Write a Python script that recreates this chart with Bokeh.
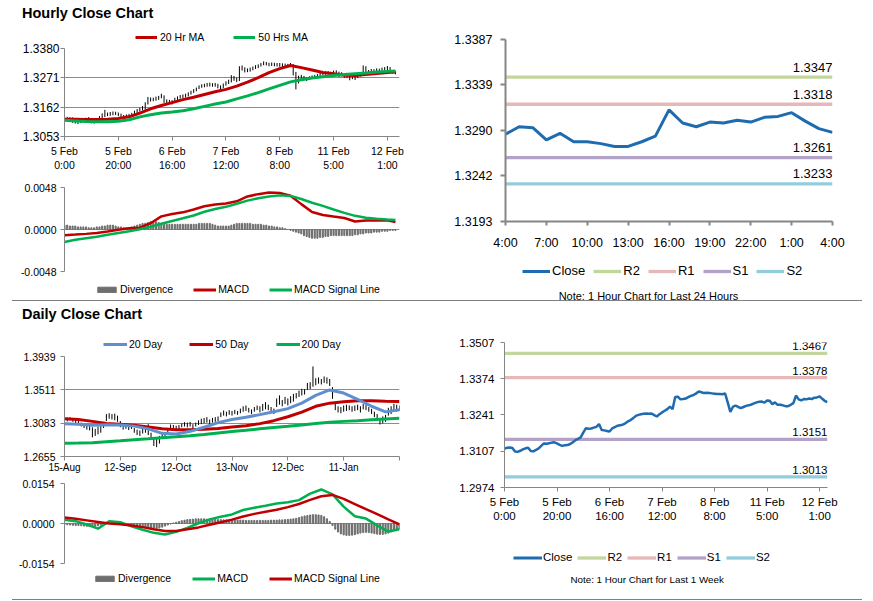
from bokeh.plotting import figure
from bokeh.models import (FixedTicker, PrintfTickFormatter, Legend, LegendItem,
                          Label, Range1d, Spacer, Title)
from bokeh.layouts import row, column
from bokeh.embed import file_html
from bokeh.resources import INLINE

# ---------------- data: hourly (last week) ----------------
hourly_tick_pos = [0, 20, 40, 60, 80, 100, 120]
hourly_tick_labels = ["5 Feb\n0:00", "5 Feb\n20:00", "6 Feb\n16:00", "7 Feb\n12:00",
                      "8 Feb\n8:00", "11 Feb\n5:00", "12 Feb\n1:00"]

hourly_close = [
    1.3117, 1.3120, 1.3121, 1.3119, 1.3106, 1.3105, 1.3109, 1.3114, 1.3118, 1.3120,
    1.3108, 1.3107, 1.3112, 1.3118, 1.3127, 1.3136, 1.3135, 1.3137, 1.3139, 1.3140,
    1.3136, 1.3131, 1.3127, 1.3129, 1.3130, 1.3134, 1.3140, 1.3148, 1.3153, 1.3158,
    1.3176, 1.3192, 1.3190, 1.3191, 1.3194, 1.3197, 1.3207, 1.3185, 1.3184, 1.3182,
    1.3180, 1.3191, 1.3196, 1.3201, 1.3203, 1.3205, 1.3210, 1.3217, 1.3222, 1.3229,
    1.3237, 1.3241, 1.3243, 1.3245, 1.3246, 1.3245, 1.3246, 1.3240, 1.3235, 1.3243,
    1.3250, 1.3256, 1.3262, 1.3271, 1.3262, 1.3307, 1.3308, 1.3298, 1.3299, 1.3301,
    1.3306, 1.3311, 1.3314, 1.3320, 1.3327, 1.3324, 1.3321, 1.3322, 1.3321, 1.3320,
    1.3319, 1.3318, 1.3318, 1.3317, 1.3320, 1.3287, 1.3252, 1.3271, 1.3275, 1.3270,
    1.3266, 1.3270, 1.3274, 1.3276, 1.3279, 1.3283, 1.3287, 1.3289, 1.3290, 1.3286,
    1.3294, 1.3293, 1.3280, 1.3287, 1.3278, 1.3278, 1.3276, 1.3273, 1.3273, 1.3278,
    1.3284, 1.3312, 1.3298, 1.3294, 1.3299, 1.3298, 1.3301, 1.3299, 1.3304, 1.3305,
    1.3309, 1.3300, 1.3292, 1.3288]

hourly_high = [
    1.3123, 1.3126, 1.3125, 1.3124, 1.3120, 1.3110, 1.3114, 1.3119, 1.3123, 1.3125,
    1.3121, 1.3113, 1.3118, 1.3129, 1.3139, 1.3152, 1.3142, 1.3144, 1.3146, 1.3145,
    1.3142, 1.3138, 1.3133, 1.3135, 1.3137, 1.3141, 1.3149, 1.3155, 1.3160, 1.3166,
    1.3180, 1.3200, 1.3198, 1.3197, 1.3201, 1.3204, 1.3212, 1.3206, 1.3191, 1.3189,
    1.3188, 1.3197, 1.3202, 1.3207, 1.3209, 1.3212, 1.3217, 1.3223, 1.3229, 1.3235,
    1.3243, 1.3247, 1.3249, 1.3252, 1.3253, 1.3251, 1.3252, 1.3249, 1.3243, 1.3250,
    1.3258, 1.3264, 1.3281, 1.3278, 1.3272, 1.3314, 1.3317, 1.3310, 1.3306, 1.3309,
    1.3313, 1.3318, 1.3321, 1.3326, 1.3332, 1.3330, 1.3327, 1.3328, 1.3327, 1.3326,
    1.3326, 1.3325, 1.3324, 1.3323, 1.3326, 1.3322, 1.3293, 1.3279, 1.3282, 1.3278,
    1.3274, 1.3277, 1.3280, 1.3282, 1.3285, 1.3289, 1.3293, 1.3295, 1.3296, 1.3294,
    1.3298, 1.3299, 1.3294, 1.3292, 1.3288, 1.3284, 1.3282, 1.3280, 1.3279, 1.3284,
    1.3290, 1.3317, 1.3314, 1.3300, 1.3304, 1.3303, 1.3306, 1.3305, 1.3309, 1.3311,
    1.3315, 1.3311, 1.3300, 1.3295]

hourly_low = [
    1.3110, 1.3114, 1.3116, 1.3104, 1.3101, 1.3099, 1.3103, 1.3107, 1.3112, 1.3106,
    1.3102, 1.3101, 1.3105, 1.3110, 1.3116, 1.3125, 1.3129, 1.3130, 1.3132, 1.3133,
    1.3129, 1.3124, 1.3121, 1.3122, 1.3124, 1.3127, 1.3132, 1.3139, 1.3145, 1.3150,
    1.3152, 1.3172, 1.3183, 1.3184, 1.3186, 1.3189, 1.3195, 1.3178, 1.3177, 1.3175,
    1.3172, 1.3179, 1.3188, 1.3194, 1.3196, 1.3198, 1.3202, 1.3209, 1.3215, 1.3221,
    1.3229, 1.3234, 1.3236, 1.3238, 1.3239, 1.3238, 1.3238, 1.3232, 1.3228, 1.3233,
    1.3242, 1.3248, 1.3254, 1.3260, 1.3255, 1.3259, 1.3298, 1.3291, 1.3292, 1.3294,
    1.3299, 1.3304, 1.3307, 1.3313, 1.3318, 1.3317, 1.3314, 1.3315, 1.3314, 1.3313,
    1.3312, 1.3311, 1.3311, 1.3310, 1.3313, 1.3280, 1.3228, 1.3250, 1.3267, 1.3263,
    1.3259, 1.3263, 1.3267, 1.3269, 1.3272, 1.3276, 1.3280, 1.3282, 1.3283, 1.3279,
    1.3284, 1.3279, 1.3274, 1.3277, 1.3271, 1.3270, 1.3262, 1.3266, 1.3263, 1.3270,
    1.3276, 1.3282, 1.3293, 1.3289, 1.3292, 1.3292, 1.3295, 1.3293, 1.3297, 1.3299,
    1.3300, 1.3294, 1.3287, 1.3284]

hours = list(range(len(hourly_close)))
ma_hours = list(range(0, 121, 4)) + [123]
ma20_hr = [1.3117, 1.3117, 1.3116, 1.3116, 1.3117, 1.3120, 1.3126, 1.3140, 1.3156, 1.3168,
           1.3179, 1.3190, 1.3199, 1.3209, 1.3219, 1.3228, 1.3240, 1.3255, 1.3272, 1.3290,
           1.3305, 1.3317, 1.3309, 1.3300, 1.3291, 1.3286, 1.3281, 1.3280, 1.3283, 1.3287,
           1.3291, 1.3293]
ma50_hr = [1.3113, 1.3111, 1.3109, 1.3108, 1.3108, 1.3110, 1.3115, 1.3126, 1.3134, 1.3140,
           1.3144, 1.3149, 1.3156, 1.3165, 1.3174, 1.3181, 1.3193, 1.3204, 1.3216, 1.3230,
           1.3243, 1.3256, 1.3264, 1.3270, 1.3275, 1.3280, 1.3283, 1.3286, 1.3289, 1.3293,
           1.3295, 1.3296]
macd_hr = [-0.00065, -0.00058, -0.00050, -0.00040, -0.00022, -0.00002, 0.00014, 0.00020,
           0.00072, 0.00150, 0.00178, 0.00196, 0.00228, 0.00265, 0.00285, 0.00298,
           0.00322, 0.00378, 0.00404, 0.00424, 0.00418, 0.00386, 0.00290, 0.00200,
           0.00165, 0.00148, 0.00132, 0.00092, 0.00102, 0.00104, 0.00104, 0.00084]
signal_hr = [-0.00142, -0.00118, -0.00100, -0.00082, -0.00060, -0.00040, -0.00020, 0.00002,
             0.00032, 0.00066, 0.00098, 0.00128, 0.00160, 0.00203, 0.00235, 0.00259,
             0.00295, 0.00330, 0.00358, 0.00378, 0.00390, 0.00384, 0.00348, 0.00306,
             0.00270, 0.00228, 0.00190, 0.00156, 0.00134, 0.00122, 0.00113, 0.00108]
div_hr = [
    0.0005, 0.0005, 0.0004, 0.0004, 0.0004, 0.0003, 0.0003, 0.0003, 0.0003, 0.0002,
    0.0002, 0.0002, 0.0003, 0.0003, 0.0004, 0.0004, 0.0005, 0.0005, 0.0005, 0.0004,
    0.0003, 0.0003, 0.0002, 0.0002, 0.0002, 0.0003, 0.0004, 0.0005, 0.0006, 0.0007,
    0.0007, 0.0008, 0.0009, 0.0009, 0.0009, 0.0008, 0.0007, 0.0006, 0.0006, 0.0006,
    0.0006, 0.0006, 0.0006, 0.0006, 0.0006, 0.0006, 0.0006, 0.0006, 0.0006, 0.0006,
    0.0007, 0.0007, 0.0007, 0.0007, 0.0007, 0.0006, 0.0005, 0.0004, 0.0004, 0.0004,
    0.0004, 0.0004, 0.0005, 0.0006, 0.0007, 0.0007, 0.0007, 0.0007, 0.0007, 0.0007,
    0.0006, 0.0006, 0.0006, 0.0006, 0.0005, 0.0005, 0.0004, 0.0004, 0.0003, 0.0003,
    0.0002, 0.0002, 0.0001, 0.0000, -0.0001, -0.0002, -0.0003, -0.0004, -0.0005, -0.0007,
    -0.0008, -0.0009, -0.0010, -0.0010, -0.0010, -0.0009, -0.0009, -0.0008, -0.0008, -0.0007,
    -0.0007, -0.0007, -0.0007, -0.0007, -0.0007, -0.0007, -0.0007, -0.0007, -0.0006, -0.0006,
    -0.0005, -0.0005, -0.0004, -0.0004, -0.0004, -0.0003, -0.0003, -0.0003, -0.0002, -0.0002,
    -0.0002, -0.0001, -0.0001, -0.0001]

# last 24 hours
close_24h = hourly_close[-25:]
h24 = list(range(len(close_24h)))
h24_tick_pos = [0, 3, 6, 9, 12, 15, 18, 21, 24]
h24_tick_labels = ["4:00", "7:00", "10:00", "13:00", "16:00", "19:00", "22:00", "1:00", "4:00"]
levels_24h = [1.3347, 1.3318, 1.3261, 1.3233]
levels_week = [1.3467, 1.3378, 1.3151, 1.3013]
level_names = ["R2", "R1", "S1", "S2"]

hr_price_ticks = [1.3053, 1.3162, 1.3271, 1.3380]
hr_macd_ticks = [-0.0048, 0.0, 0.0048]
h24_ticks = [1.3193, 1.3242, 1.3290, 1.3339, 1.3387]
week_ticks = [1.2974, 1.3107, 1.3241, 1.3374, 1.3507]

# ---------------- data: daily ----------------
day_tick_pos = [0, 20, 40, 60, 80, 100, 120]
day_tick_labels = ["15-Aug", "12-Sep", "12-Oct", "13-Nov", "12-Dec", "11-Jan", ""]
day_price_ticks = [1.2655, 1.3083, 1.3511, 1.3939]
day_macd_ticks = [-0.0154, 0.0, 0.0154]

daily_low = [
    1.3110, 1.3105, 1.3120, 1.3100, 1.3080, 1.3060, 1.3040, 1.3020, 1.3000, 1.2990,
    1.2900, 1.2920, 1.2940, 1.2960, 1.3020, 1.3110, 1.3140, 1.3130, 1.3120, 1.3100,
    1.3030, 1.3000, 1.3010, 1.2995, 1.3010, 1.2960, 1.2930, 1.2920, 1.2950, 1.2960,
    1.2930, 1.2880, 1.2790, 1.2775, 1.2820, 1.2890, 1.2900, 1.2950, 1.3000, 1.3010,
    1.2990, 1.3000, 1.3030, 1.3040, 1.3030, 1.3040, 1.3010, 1.3040, 1.3060, 1.3070,
    1.3080, 1.3090, 1.3070, 1.3090, 1.3100, 1.3110, 1.3160, 1.3180, 1.3170, 1.3190,
    1.3180, 1.3200, 1.3190, 1.3210, 1.3230, 1.3240, 1.3220, 1.3200, 1.3230, 1.3250,
    1.3220, 1.3240, 1.3260, 1.3250, 1.3210, 1.3200, 1.3290, 1.3320, 1.3300, 1.3330,
    1.3310, 1.3340, 1.3360, 1.3400, 1.3420, 1.3440, 1.3450, 1.3510, 1.3520, 1.3550,
    1.3570, 1.3590, 1.3580, 1.3600, 1.3590, 1.3560, 1.3395, 1.3250, 1.3220, 1.3210,
    1.3230, 1.3240, 1.3250, 1.3230, 1.3240, 1.3250, 1.3220, 1.3260, 1.3250, 1.3230,
    1.3200, 1.3160, 1.3120, 1.3066, 1.3080, 1.3100, 1.3180, 1.3200, 1.3240, 1.3230,
    1.3240]
daily_high = [
    1.3160, 1.3155, 1.3158, 1.3150, 1.3135, 1.3120, 1.3090, 1.3070, 1.3060, 1.3050,
    1.3030, 1.3010, 1.3040, 1.3060, 1.3100, 1.3200, 1.3211, 1.3200, 1.3205, 1.3180,
    1.3110, 1.3060, 1.3070, 1.3055, 1.3060, 1.3020, 1.3000, 1.2990, 1.3010, 1.3030,
    1.3070, 1.2960, 1.2900, 1.2880, 1.2920, 1.2960, 1.2970, 1.3010, 1.3066, 1.3060,
    1.3050, 1.3060, 1.3080, 1.3096, 1.3090, 1.3100, 1.3070, 1.3090, 1.3120, 1.3140,
    1.3150, 1.3160, 1.3130, 1.3150, 1.3160, 1.3170, 1.3220, 1.3246, 1.3230, 1.3250,
    1.3240, 1.3254, 1.3240, 1.3270, 1.3300, 1.3310, 1.3280, 1.3260, 1.3290, 1.3310,
    1.3300, 1.3330, 1.3353, 1.3320, 1.3290, 1.3270, 1.3400, 1.3440, 1.3380, 1.3420,
    1.3400, 1.3430, 1.3460, 1.3470, 1.3500, 1.3524, 1.3520, 1.3600, 1.3609, 1.3811,
    1.3660, 1.3670, 1.3650, 1.3682, 1.3670, 1.3650, 1.3545, 1.3330, 1.3300, 1.3290,
    1.3310, 1.3320, 1.3310, 1.3300, 1.3310, 1.3320, 1.3300, 1.3330, 1.3320, 1.3290,
    1.3267, 1.3230, 1.3200, 1.3150, 1.3170, 1.3190, 1.3280, 1.3300, 1.3331, 1.3320,
    1.3310]
days = list(range(len(daily_low)))

ma_days = list(range(0, 121, 5))
ma20_day = [1.3074, 1.3070, 1.3055, 1.3062, 1.3060, 1.3045, 1.3010, 1.2952, 1.2944, 1.2978,
            1.3030, 1.3090, 1.3130, 1.3158, 1.3193, 1.3230, 1.3270, 1.3340, 1.3440, 1.3510,
            1.3470, 1.3390, 1.3300, 1.3228, 1.3254]
ma50_day = [1.3139, 1.3130, 1.3106, 1.3080, 1.3070, 1.3055, 1.3035, 1.3010, 1.2998, 1.2997,
            1.3005, 1.3015, 1.3035, 1.3050, 1.3077, 1.3115, 1.3165, 1.3225, 1.3300, 1.3340,
            1.3358, 1.3370, 1.3372, 1.3364, 1.3361]
ma200_day = [1.2826, 1.2828, 1.2833, 1.2845, 1.2857, 1.2870, 1.2882, 1.2895, 1.2908, 1.2922,
             1.2938, 1.2958, 1.2976, 1.2992, 1.3010, 1.3028, 1.3043, 1.3060, 1.3078, 1.3096,
             1.3106, 1.3115, 1.3128, 1.3138, 1.3147]

macd_days = list(range(0, 121, 4))
macd_day = [0.0014, 0.0009, -0.0004, -0.0020, 0.0009, 0.0005, -0.0011, -0.0024, -0.0036, -0.0042,
            -0.0032, -0.0017, 0.0001, 0.0016, 0.0026, 0.0035, 0.0052, 0.0061, 0.0068, 0.0077,
            0.0082, 0.0090, 0.0115, 0.0131, 0.0112, 0.0065, 0.0028, 0.0019, -0.0007, -0.0031,
            -0.0022]
signal_day = [0.0023, 0.0018, 0.0012, 0.0006, 0.0000, -0.0003, -0.0008, -0.0014, -0.0022, -0.0029,
              -0.0029, -0.0022, -0.0015, -0.0005, 0.0005, 0.0015, 0.0027, 0.0037, 0.0045, 0.0053,
              0.0063, 0.0075, 0.0091, 0.0105, 0.0110, 0.0095, 0.0075, 0.0055, 0.0036, 0.0016,
              -0.0003]
div_day = [
    -0.0004, -0.0005, -0.0006, -0.0007, -0.0008, -0.0008, -0.0009, -0.0010, -0.0011, -0.0012,
    -0.0012, -0.0011, -0.0009, -0.0006, -0.0002, 0.0002, 0.0004, 0.0005, 0.0004, 0.0003,
    0.0001, -0.0002, -0.0005, -0.0008, -0.0010, -0.0012, -0.0013, -0.0014, -0.0015, -0.0016,
    -0.0016, -0.0017, -0.0018, -0.0018, -0.0017, -0.0014, -0.0010, -0.0006, -0.0002, 0.0002,
    0.0005, 0.0008, 0.0011, 0.0013, 0.0015, 0.0016, 0.0017, 0.0018, 0.0018, 0.0018,
    0.0018, 0.0017, 0.0017, 0.0016, 0.0016, 0.0015, 0.0015, 0.0014, 0.0014, 0.0014,
    0.0014, 0.0013, 0.0013, 0.0013, 0.0013, 0.0012, 0.0012, 0.0012, 0.0012, 0.0012,
    0.0012, 0.0012, 0.0012, 0.0012, 0.0013, 0.0013, 0.0013, 0.0014, 0.0014, 0.0015,
    0.0016, 0.0017, 0.0018, 0.0020, 0.0023, 0.0026, 0.0029, 0.0031, 0.0033, 0.0034,
    0.0034, 0.0033, 0.0031, 0.0026, 0.0018, 0.0008, -0.0008, -0.0022, -0.0033, -0.0040,
    -0.0044, -0.0046, -0.0046, -0.0045, -0.0043, -0.0040, -0.0037, -0.0035, -0.0034, -0.0035,
    -0.0037, -0.0039, -0.0041, -0.0042, -0.0042, -0.0040, -0.0037, -0.0033, -0.0028, -0.0024,
    -0.0022]

# ---------------- styles ----------------
FONT = "Liberation Sans"
AXIS_GRAY = "#868686"
GRID_GRAY = "#8c8c8c"
RED = "#C00000"
GREEN = "#00B050"
BLUE20 = "#5F8FCE"
DIV_GRAY = "#6E6E6E"
CLOSE_BLUE = "#1F6BB0"
LEVEL_COLORS = ["#C3D69B", "#E6B9B8", "#B3A2C7", "#93CDDD"]


def make_fig(fw, fh, left, right, top, bottom, xr, yr):
    p = figure(frame_width=fw, frame_height=fh,
               min_border_left=left, min_border_right=right,
               min_border_top=top, min_border_bottom=bottom,
               x_range=Range1d(*xr), y_range=Range1d(*yr),
               output_backend="svg", toolbar_location=None)
    p.outline_line_color = None
    p.border_fill_color = "white"
    p.background_fill_color = "white"
    p.xgrid.visible = False
    p.ygrid.grid_line_color = None
    return p


def make_box(w, h, top=0):
    """Strip for a legend / note; its ranges lie far away so legend keys draw no marks."""
    p = figure(frame_width=w, frame_height=h,
               min_border_left=0, min_border_right=0, min_border_top=top, min_border_bottom=0,
               x_axis_location=None, y_axis_location=None,
               x_range=Range1d(-1000, -999), y_range=Range1d(-1000, -999),
               output_backend="svg", toolbar_location=None)
    p.outline_line_color = None
    p.border_fill_color = "white"
    p.background_fill_color = "white"
    p.grid.visible = False
    return p


def set_yaxis(p, ticks, size, standoff, tick_out=4, grid=False, lw=1):
    ax = p.yaxis[0]
    ax.ticker = FixedTicker(ticks=ticks)
    ax.formatter = PrintfTickFormatter(format="%.4f")
    ax.major_label_text_font = FONT
    ax.major_label_text_font_size = size
    ax.major_label_text_color = "black"
    ax.major_label_standoff = standoff
    ax.axis_line_color = AXIS_GRAY
    ax.axis_line_width = lw
    ax.major_tick_line_color = AXIS_GRAY
    ax.major_tick_line_width = lw
    ax.major_tick_out = tick_out
    ax.major_tick_in = 0
    ax.minor_tick_line_color = None
    if grid:
        p.ygrid.ticker = FixedTicker(ticks=ticks)
        p.ygrid.grid_line_color = GRID_GRAY
        p.ygrid.grid_line_width = 1


def set_xaxis(p, ticks, labels, size, standoff, tick_out=4, lw=1):
    ax = p.xaxis[0]
    ax.ticker = FixedTicker(ticks=ticks)
    ax.major_label_overrides = {t: l for t, l in zip(ticks, labels)}
    ax.major_label_text_font = FONT
    ax.major_label_text_font_size = size
    ax.major_label_text_color = "black"
    ax.major_label_standoff = standoff
    ax.axis_line_color = AXIS_GRAY
    ax.axis_line_width = lw
    ax.major_tick_line_color = AXIS_GRAY
    ax.major_tick_line_width = lw
    ax.major_tick_out = tick_out
    ax.major_tick_in = 0
    ax.minor_tick_line_color = None


def add_legend(box, entries, loc, size, gw, gh, spacing, standoff):
    """entries: (label, kind, color, width, xs, ys); keys reuse the series (out of view)."""
    items = []
    for label, kind, color, width, xs, ys in entries:
        if kind == "bar":
            r = box.vbar(x=xs, top=ys, bottom=0, width=0.4, color=color)
        else:
            r = box.line(xs, ys, color=color, line_width=width)
        items.append(LegendItem(label=label, renderers=[r]))
    leg = Legend(items=items, location=loc, orientation="horizontal",
                 border_line_color=None, background_fill_alpha=0,
                 padding=0, margin=0, spacing=spacing, label_standoff=standoff,
                 glyph_width=gw, glyph_height=gh, label_height=gh, label_width=1,
                 label_text_font=FONT, label_text_font_size=size,
                 label_text_color="black", label_text_baseline="middle")
    box.add_layout(leg)


def add_title(box, text, offset):
    box.add_layout(Title(text=text, align="left", offset=offset, standoff=4,
                         text_font=FONT, text_font_size="14.5px",
                         text_font_style="bold", text_color="black"), "above")


def add_note(box, x, y, text, size):
    box.add_layout(Label(x=x, y=y, x_units="screen", y_units="screen", text=text,
                         text_font=FONT, text_font_size=size, text_align="center",
                         text_baseline="middle", text_color="black"))


# ---------------- A: hourly close ----------------
hdrA = make_box(420, 20, top=22)
add_title(hdrA, "Hourly Close Chart", -42.5)
add_legend(hdrA, [("20 Hr MA", "line", RED, 3, ma_hours, ma20_hr),
                  ("50 Hrs MA", "line", GREEN, 3, ma_hours, ma50_hr)],
           (135, -1), "10.5px", 22, 12, 29, 3)

pA = make_fig(335, 88, 64, 21, 6, 39, (0, 124.5), (hr_price_ticks[0], hr_price_ticks[-1]))
pA.segment(x0=hours, y0=hourly_low, x1=hours, y1=hourly_high, color="black", line_width=1)
pA.line(ma_hours, ma20_hr, color=RED, line_width=3)
pA.line(ma_hours, ma50_hr, color=GREEN, line_width=3)
set_yaxis(pA, hr_price_ticks, "12px", 1, grid=True)
set_xaxis(pA, hourly_tick_pos, hourly_tick_labels, "10.5px", 4)

# ---------------- B: hourly MACD ----------------
pB = make_fig(335, 84, 64, 21, 12, 7, (0, 124.5), (hr_macd_ticks[0], hr_macd_ticks[-1]))
pB.vbar(x=hours, top=div_hr, bottom=0, width=0.4, color=DIV_GRAY)
pB.line(ma_hours, macd_hr, color=RED, line_width=2.5)
pB.line(ma_hours, signal_hr, color=GREEN, line_width=2.5)
set_yaxis(pB, hr_macd_ticks, "10.5px", 4, grid=True)
pB.xaxis.visible = False

ftrB = make_box(420, 22)
add_legend(ftrB, [("Divergence", "bar", DIV_GRAY, 0, hours, div_hr),
                  ("MACD", "line", RED, 3, ma_hours, macd_hr),
                  ("MACD Signal Line", "line", GREEN, 3, ma_hours, signal_hr)],
           (95, 5), "10.5px", 23, 7, 20, 2)

# ---------------- C: last 24 hours ----------------
pC = make_fig(327, 182, 85, 30, 39, 35, (h24[0], h24[-1]), (h24_ticks[0], h24_ticks[-1]))
for lv, col in zip(levels_24h, LEVEL_COLORS):
    pC.line([h24[0], h24[-1]], [lv, lv], color=col, line_width=3.3)
pC.line(h24, close_24h, color=CLOSE_BLUE, line_width=3)
for lv in levels_24h:
    pC.add_layout(Label(x=h24[-1], y=lv, text=f"{lv:.4f}", y_offset=10,
                        text_align="right", text_baseline="middle",
                        text_font=FONT, text_font_size="13px", text_color="black"))
set_yaxis(pC, h24_ticks, "12.5px", 8, tick_out=5, lw=2)
set_xaxis(pC, h24_tick_pos, h24_tick_labels, "12.5px", 10, tick_out=4, lw=2)

ftrC = make_box(442, 44)
add_legend(ftrC, [("Close", "line", CLOSE_BLUE, 3, h24, close_24h)] +
           [(n, "line", c, 3.3, [h24[0], h24[-1]], [lv, lv])
            for n, c, lv in zip(level_names, LEVEL_COLORS, levels_24h)],
           (102, 22), "13px", 28, 14, 8, 2)
add_note(ftrC, 143, 5, "Note: 1 Hour Chart for Last 24 Hours", "11px")

# ---------------- D: daily close ----------------
hdrD = make_box(420, 27, top=22)
add_title(hdrD, "Daily Close Chart", -42.5)
add_legend(hdrD, [("20 Day", "line", BLUE20, 3, ma_days, ma20_day),
                  ("50 Day", "line", RED, 3, ma_days, ma50_day),
                  ("200 Day", "line", GREEN, 3, ma_days, ma200_day)],
           (103, 0), "10.5px", 24, 12, 27, 2)

pD = make_fig(335, 100, 64, 21, 6, 22, (0, 120), (day_price_ticks[0], day_price_ticks[-1]))
pD.segment(x0=days, y0=daily_low, x1=days, y1=daily_high, color="black", line_width=1)
pD.line(ma_days, ma200_day, color=GREEN, line_width=3)
pD.line(ma_days, ma50_day, color=RED, line_width=3)
pD.line(ma_days, ma20_day, color=BLUE20, line_width=3)
set_yaxis(pD, day_price_ticks, "10.5px", 5, grid=True)
set_xaxis(pD, day_tick_pos, day_tick_labels, "10px", 1)

# ---------------- E: daily MACD ----------------
pE = make_fig(335, 80, 64, 21, 5, 7, (0, 120), (day_macd_ticks[0], day_macd_ticks[-1]))
pE.vbar(x=days, top=div_day, bottom=0, width=0.4, color=DIV_GRAY)
pE.line(macd_days, macd_day, color=GREEN, line_width=2.5)
pE.line(macd_days, signal_day, color=RED, line_width=2.5)
set_yaxis(pE, day_macd_ticks, "10.5px", 6, grid=True)
pE.xaxis.visible = False

ftrE = make_box(420, 27)
add_legend(ftrE, [("Divergence", "bar", DIV_GRAY, 0, days, div_day),
                  ("MACD", "line", GREEN, 3, macd_days, macd_day),
                  ("MACD Signal Line", "line", RED, 3, macd_days, signal_day)],
           (93, 13), "10.5px", 23, 7, 21, 2)

# ---------------- F: last week ----------------
pF = make_fig(323, 145, 84, 35, 41, 35, (hours[0], hours[-1]), (week_ticks[0], week_ticks[-1]))
for lv, col in zip(levels_week, LEVEL_COLORS):
    pF.line([hours[0], hours[-1]], [lv, lv], color=col, line_width=3.3)
pF.line(hours, hourly_close, color=CLOSE_BLUE, line_width=2.5)
for lv in levels_week:
    pF.add_layout(Label(x=hours[-1], y=lv, text=f"{lv:.4f}", y_offset=7,
                        text_align="right", text_baseline="middle",
                        text_font=FONT, text_font_size="11.5px", text_color="black"))
set_yaxis(pF, week_ticks, "11.5px", 6)
set_xaxis(pF, hourly_tick_pos, hourly_tick_labels, "11.5px", 4)

ftrF = make_box(442, 75)
add_legend(ftrF, [("Close", "line", CLOSE_BLUE, 3, hours, hourly_close)] +
           [(n, "line", c, 3.3, [hours[0], hours[-1]], [lv, lv])
            for n, c, lv in zip(level_names, LEVEL_COLORS, levels_week)],
           (93, 35.5), "11.5px", 29, 13, 5, 1)
add_note(ftrF, 144, 20.5, "Note: 1 Hour Chart for  Last 1 Week", "9.8px")

# ---------------- layout ----------------
def separator():
    return row(Spacer(width=12, height=1),
               Spacer(width=850, height=1, styles={"background-color": "#808080"}))


top = row(column(hdrA, pA, pB, ftrB), column(pC, ftrC))
bottom = row(column(hdrD, pD, pE, ftrE), column(pF, ftrF))
layout = column(top, separator(), bottom, separator())

open("out.html", "w").write(file_html(layout, INLINE))
